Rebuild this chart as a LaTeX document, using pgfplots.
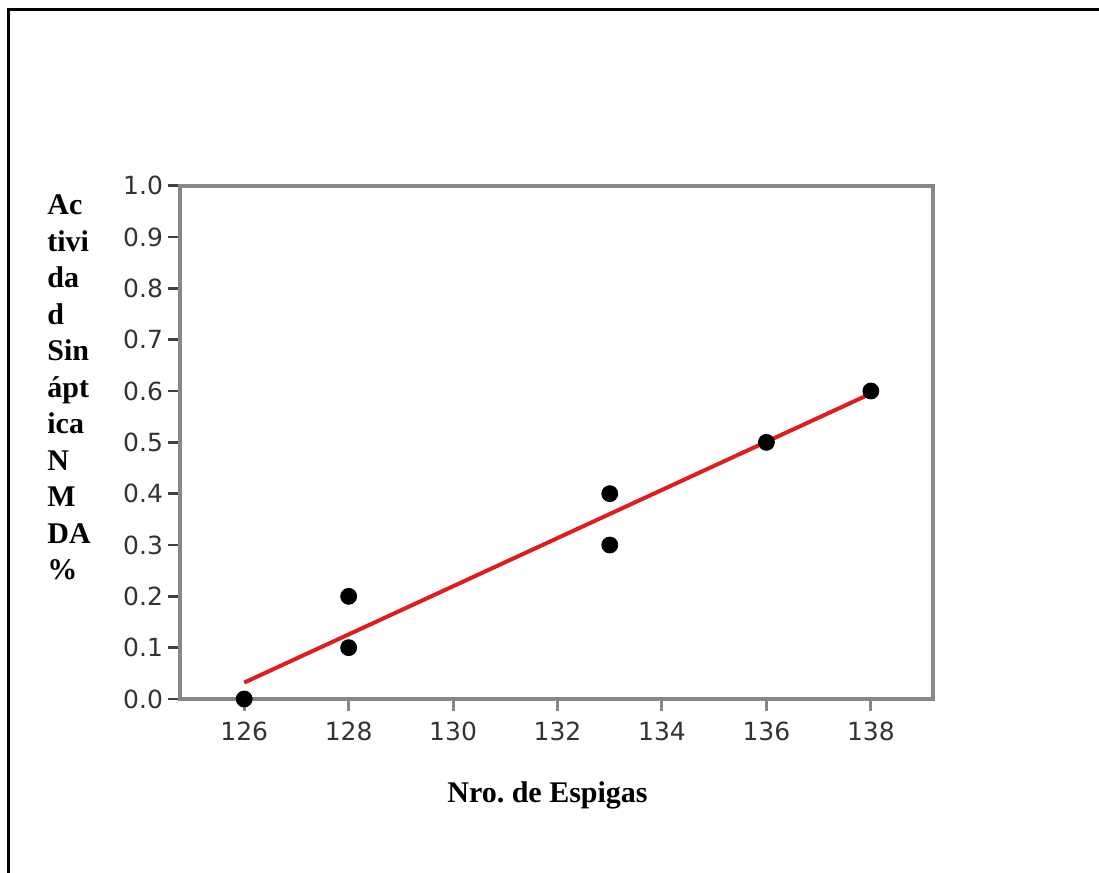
\documentclass[border=0pt]{standalone}
\usepackage{pgfplots}
\pgfplotsset{compat=1.18}
\usepackage{fontspec}
\setmainfont{Liberation Serif}
\newfontfamily\ticksfont{DejaVu Sans}

\definecolor{axisgray}{RGB}{135,135,135}
\definecolor{fitred}{RGB}{222,30,30}

\begin{document}
\begin{tikzpicture}
  \path[use as bounding box] (0,0) rectangle (549.5pt,436.5pt);
  % outer frame (left and top edges)
  \draw[line width=1.5pt, black] (4pt,0) -- (4pt,431.75pt) -- (549.5pt,431.75pt);

  \begin{axis}[
    at={(90pt,87pt)}, anchor=south west,
    scale only axis, width=376.5pt, height=256.65pt,
    xmin=124.77, xmax=139.19, ymin=0, ymax=1,
    xtick={126,128,130,132,134,136,138},
    ytick={0,0.1,0.2,0.3,0.4,0.5,0.6,0.7,0.8,0.9,1.0},
    xtick pos=bottom, ytick pos=left,
    tick align=outside,
    major tick length=6pt,
    axis line style={draw=axisgray, line width=2pt},
    xtick style={draw=axisgray, line width=1.5pt},
    ytick style={draw=black!75, line width=1.2pt},
    yticklabel style={xshift=1pt, /pgf/number format/.cd, fixed, fixed zerofill, precision=1},
    xticklabel style={yshift=-2pt},
    /pgf/number format/assume math mode=true,
    ticklabel style={font=\ticksfont\fontsize{12.5}{13}\selectfont, text=black!80},
    clip=false,
  ]
    % observations
    \addplot[only marks, mark=*, mark size=4pt, black] coordinates {
      (126,0.0) (128,0.2) (128,0.1) (133,0.4) (133,0.3) (136,0.5) (138,0.6)
    };
    % least-squares line
    \addplot[fitred, line width=2pt] coordinates {(126,0.032) (138,0.595)};
  \end{axis}

  % axis titles
  \foreach \t [count=\i from 0] in {Ac,tivi,da,d,Sin,ápt,ica,N,M,DA,\%}
    \node[anchor=base west, inner sep=0, font=\bfseries\fontsize{15}{18}\selectfont]
      at (23.5pt,{329pt-18.25pt*\i}) {\t};
  \node[anchor=base, inner sep=0, font=\bfseries\fontsize{15}{18}\selectfont]
    at (273.75pt,35pt) {\frenchspacing Nro. de Espigas};
\end{tikzpicture}
\end{document}
